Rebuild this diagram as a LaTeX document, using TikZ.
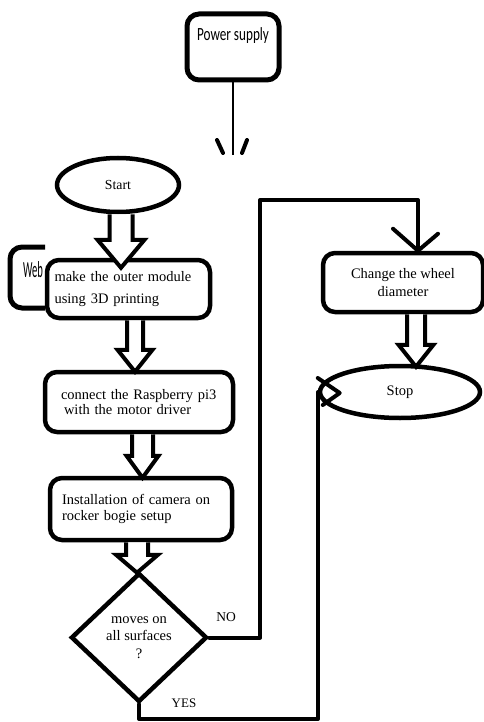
\documentclass[tikz,border=0pt]{standalone}
\usepackage{fontspec}
\setmainfont{Liberation Serif}
\newfontfamily\calib{Carlito}
\usetikzlibrary{calc,shapes.geometric}
\tikzset{
  box/.style={draw, line width=4.5pt, rounded corners=12pt, fill=white, inner sep=0pt},
  oval/.style={draw, ellipse, line width=4.5pt, fill=white, inner sep=0pt},
  conn/.style={line width=4pt, line cap=round, line join=round},
  harr/.style={draw, line width=4pt, fill=white, line join=miter},
  lab/.style={inner sep=0pt, font=\fontsize{13.5}{16}\selectfont},
}
\newcommand\harrow[5]{\draw[harr] let \p1=#1, \p2=#2 in
  (\x1-#3pt,\y1) -- (\x1-#3pt,\y2+#5pt) -- (\x1-#4pt,\y2+#5pt) -- (\x1,\y2)
  -- (\x1+#4pt,\y2+#5pt) -- (\x1+#3pt,\y2+#5pt) -- (\x1+#3pt,\y1);}
\begin{document}
\begin{tikzpicture}[x=1pt,y=-1pt]
\useasboundingbox[fill=white] (0,0) rectangle (484,722);

% Web (partly hidden)
\draw[line width=5pt, rounded corners=12pt] (45,247) -- (10,247) -- (10,308) -- (45,308);
\node[inner sep=0pt, font=\calib\fontsize{23}{24}\selectfont] (web) at (33,270) {\scalebox{0.46}[1]{Web}};

% Power supply
\node[box, line width=5pt, minimum width=92pt, minimum height=66pt,
      font=\calib\fontsize{18.6}{20}\selectfont, text height=13pt, text depth=25pt]
      (ps) at (233,47) {\scalebox{0.71}[1]{Power supply}};

% Start / Stop
\node[oval, minimum width=122pt, minimum height=54pt, font=\fontsize{13.8}{16}\selectfont]
      (start) at (118,185) {Start};
\node[oval, minimum width=160pt, minimum height=52pt, font=\fontsize{14.5}{17}\selectfont]
      (stop) at (400,392) {Stop};

% process boxes
\node[box, minimum width=163pt, minimum height=58pt, text width=148pt, align=left,
      font=\fontsize{14.5}{21.7}\selectfont]
      (b1) at (128.5,289) {make the outer module\\using 3D printing};
\node[box, minimum width=188pt, minimum height=60pt, text width=156pt, align=left,
      font=\fontsize{14.5}{15.7}\selectfont]
      (b2) at (139,402) {connect the Raspberry pi3\\\hspace*{3pt}with the motor driver};
\node[box, minimum width=182pt, minimum height=62pt, text width=158pt, align=left,
      font=\fontsize{14.5}{16.5}\selectfont]
      (b3) at (141,509) {Installation of camera on\\rocker bogie setup};
\node[box, minimum width=160pt, minimum height=59pt, align=center,
      font=\fontsize{14.5}{18.3}\selectfont]
      (b4) at (403,282.5) {Change the wheel\\diameter};

% decision
\node[draw, diamond, line width=4.5pt, fill=white, inner sep=0pt, minimum width=136pt,
      minimum height=129pt, align=center, font=\fontsize{14.5}{17.5}\selectfont]
      (d) at (139,637.5) {moves on\\all surfaces\\?};

\node[lab] (no) at (226,617) {NO};
\node[lab, font=\fontsize{13}{15}\selectfont] (yes) at (184,703) {YES};

% hollow arrows
\harrow{($(start.south)+(3,0)$)}{($(b1.north)+(0,10)$)}{11.5}{23.5}{28}
\harrow{($(b1.south)+(6.5,0)$)}{($(b2.north)+(0,2)$)}{8}{17.5}{22}
\harrow{($(b2.south)+(3.5,0)$)}{($(b3.north)+(0,2)$)}{10.5}{16}{22}
\harrow{($(b3.south)+(-4,0)$)}{($(d.north)+(0,2)$)}{11}{21}{18}
\harrow{($(b4.south)+(13,0)$)}{($(stop.north)+(0,3)$)}{9}{17.5}{22}

% power supply line
\coordinate (psend) at (233,155);
\draw[line width=2.5pt] (ps.south) -- (psend);
\draw[conn] ($(psend)+(-16,-15)$) -- ($(psend)+(-10,-2)$);
\draw[conn] ($(psend)+(14,-15)$) -- ($(psend)+(9,-2)$);

% NO branch
\coordinate (nc) at (260,637.5);
\coordinate (tc) at (260,200);
\coordinate (rc) at (418,200);
\coordinate (b4in) at (rc |- b4.north);
\draw[conn] (d.east) -- (nc) -- (tc) -- (rc) -- (b4in);
\draw[conn] ($(b4in)+(-25,-22)$) -- (b4in) -- ($(b4in)+(20,-17)$);

% YES branch
\coordinate (yl) at (140,719);
\coordinate (yr) at (318,719);
\draw[conn] (d.south) -- (d.south |- yl) -- (yr) -- (yr |- stop.west);
\draw[conn] ($(stop.west)+(0,-14)$) -- ($(stop.west)+(22,1)$) -- ($(stop.west)+(5,13)$);
\end{tikzpicture}
\end{document}
